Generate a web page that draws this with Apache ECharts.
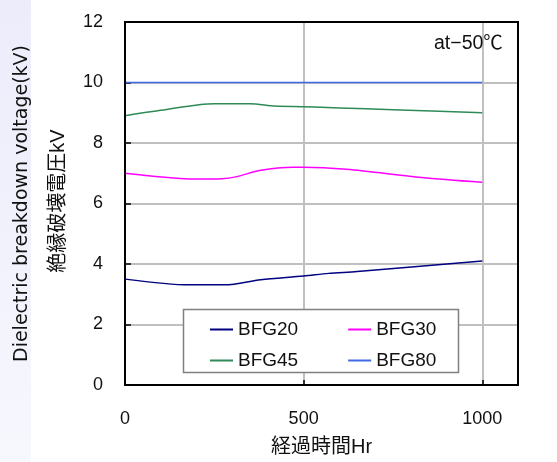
<!DOCTYPE html>
<html><head><meta charset="utf-8">
<script src="https://cdn.jsdelivr.net/npm/echarts@6/dist/echarts.min.js"></script>
<style>html,body{margin:0;padding:0;background:#fff}#c{width:557px;height:462px}</style>
</head><body><div id="c"></div>
<script>
const seriesNames = ['BFG20', 'BFG30', 'BFG45', 'BFG80'];
const bfg20 = [[0,3.5],[180,3.31],[280,3.31],[380,3.48],[500,3.6],[570,3.69],[650,3.75],[1000,4.1]];
const bfg30 = [[0,7.0],[200,6.81],[270,6.82],[310,6.88],[380,7.1],[470,7.2],[500,7.2],[620,7.13],[830,6.86],[1000,6.7]];
const bfg45 = [[0,8.9],[100,9.08],[250,9.3],[350,9.3],[420,9.22],[500,9.2],[600,9.16],[750,9.1],[1000,9.0]];
const bfg80 = [[0,10],[1000,10]];
const xTicks = [0, 500, 1000];
const yTicks = [0, 2, 4, 6, 8, 10, 12];
const colors = ['#000080', '#ff00ff', '#2e8b57', '#4169e1'];
const font = '"Liberation Sans", Arial, "Noto Sans CJK JP", sans-serif';
const wideFont = '"DejaVu Sans", "Noto Sans CJK JP", sans-serif';

const chart = echarts.init(document.getElementById('c'));
const mk = (i, d) => ({
  name: seriesNames[i], type: 'line', data: d, symbol: 'none', smooth: 0.3,
  lineStyle: { color: colors[i], width: 1.5 }, itemStyle: { color: colors[i] }, z: 3
});
chart.setOption({
  animation: false,
  textStyle: { fontFamily: font },
  grid: { left: 125, top: 22, right: 39, bottom: 77, show: true, borderColor: '#000', borderWidth: 2, z: 4 },
  xAxis: {
    type: 'value', min: 0, max: 1100, interval: 100,
    axisLine: { show: true, lineStyle: { color: '#000', width: 2 } },
    axisTick: { show: true, inside: true, length: 5, lineStyle: { color: '#000', width: 1.5 },
      customValues: xTicks },
    axisLabel: { customValues: xTicks, margin: 25, fontSize: 18, color: '#111', fontFamily: font,
      formatter: v => String(v) },
    splitLine: { show: true, customValues: [500, 1000], lineStyle: { color: '#c0c0c0', width: 2 } },
    name: '経過時間Hr', nameLocation: 'middle', nameGap: 52,
    nameTextStyle: { fontSize: 20, color: '#111', fontFamily: font }
  },
  yAxis: {
    type: 'value', min: 0, max: 12, interval: 2,
    axisLine: { show: true, lineStyle: { color: '#000', width: 2 } },
    axisTick: { show: true, inside: true, length: 6, lineStyle: { color: '#000', width: 1.5 } },
    axisLabel: { customValues: yTicks, margin: 22, fontSize: 18, color: '#111', fontFamily: font },
    splitLine: { show: true, lineStyle: { color: '#c0c0c0', width: 2 } },
    name: 'Dielectric breakdown voltage(kV)', nameLocation: 'middle', nameGap: 93,
    nameTextStyle: { fontSize: 19, color: '#111', fontFamily: wideFont }
  },
  title: {
    text: 'at−50℃', left: 429, top: 29,
    textStyle: { fontSize: 19.5, fontWeight: 'normal', color: '#111', fontFamily: font }
  },
  legend: [
    { data: seriesNames.slice(0, 2), left: 210, top: 320, itemWidth: 23, itemHeight: 2, icon: 'rect',
      itemGap: 50, textStyle: { fontSize: 19, color: '#111', fontFamily: font }, padding: 0, z: 10 },
    { data: seriesNames.slice(2, 4), left: 210, top: 351, itemWidth: 23, itemHeight: 2, icon: 'rect',
      itemGap: 50, textStyle: { fontSize: 19, color: '#111', fontFamily: font }, padding: 0, z: 10 }
  ],
  graphic: [
    { type: 'rect', shape: { x: 0, y: 0, width: 31, height: 462 }, z: -10,
      style: { fill: new echarts.graphic.LinearGradient(0, 0, 0, 1, [{offset: 0, color: '#ececfb'}, {offset: 1, color: '#f7f7fe'}]) } },
    { type: 'rect', shape: { x: 183.5, y: 309.5, width: 275, height: 63 }, z: 5,
      style: { fill: '#fff', stroke: '#808080', lineWidth: 1.5 } },
    { type: 'text', x: 58, y: 201, rotation: Math.PI / 2, z: 6,
      style: { text: '絶縁破壊電圧kV', fontSize: 20, fill: '#111', align: 'center', verticalAlign: 'middle', fontFamily: font } }
  ],
  series: [mk(0, bfg20), mk(1, bfg30), mk(2, bfg45), mk(3, bfg80)]
});
</script></body></html>
